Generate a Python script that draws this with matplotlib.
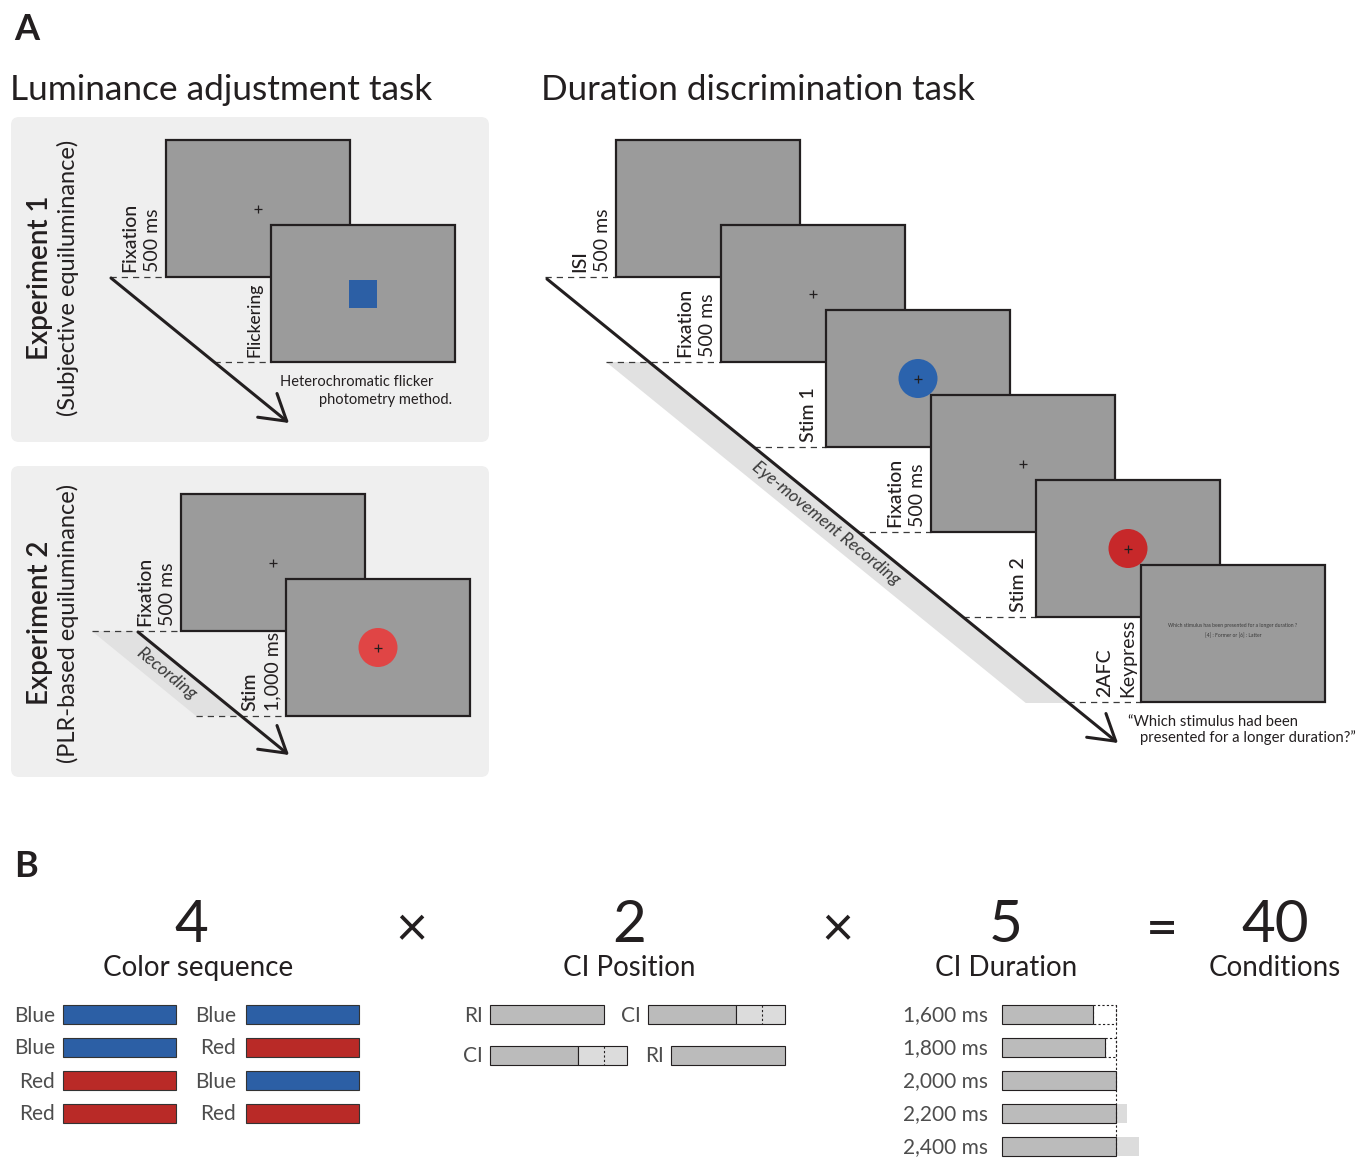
import matplotlib
matplotlib.use("Agg")
import matplotlib.pyplot as plt
from matplotlib.patches import Rectangle, Circle, FancyBboxPatch, Polygon

plt.rcParams['font.family'] = ['Lato', 'DejaVu Sans']

# ---------------- data ----------------
exp1_steps = [("Fixation", "500 ms"), ("Flickering", None)]
exp1_stims = ["plus", "square"]
exp2_steps = [("Fixation", "500 ms"), ("Stim", "1,000 ms")]
exp2_stims = ["plus", "light_red"]
task_steps = [("ISI", "500 ms"), ("Fixation", "500 ms"), ("Stim 1", None),
              ("Fixation", "500 ms"), ("Stim 2", None), ("2AFC", "Keypress")]
task_stims = [None, "plus", "blue", "plus", "red", "question"]
question_lines = ["Which stimulus has been presented for a longer duration ?",
                  "[4] : Former or [6] : Latter"]

factor_counts = ["4", "2", "5", "40"]
factor_names = ["Color sequence", "CI Position", "CI Duration", "Conditions"]
operators = ["×", "×", "="]

color_first = ["Blue", "Blue", "Red", "Red"]
color_second = ["Blue", "Red", "Blue", "Red"]
ci_position = [("RI", "CI"), ("CI", "RI")]
ri_ms = 2000
ci_ms = 2400
ci_split_ms = 1550
ci_duration = [1600, 1800, 2000, 2200, 2400]

# ---------------- style ----------------
INK = '#231f20'
SCREEN = '#9b9b9b'
PANEL = '#efefef'
BAND = '#e1e1e1'
LABEL = '#4d4d4d'
BAR = '#bbbbbb'
BAR_LIGHT = '#dcdcdc'
COLORS = {"Blue": '#2c5fa5', "Red": '#b92a27'}
W, H = 184, 137
DX, DY = 105, 85
PX_PER_MS = 0.057

fig = plt.figure(figsize=(13.66, 11.58), dpi=100)
ax = fig.add_axes([0, 0, 1, 1])
ax.set_xlim(0, 1366)
ax.set_ylim(1158, 0)
ax.axis('off')


def vlabel(x, y, s, size=14, weight='medium'):
    if s == "Flickering":
        size = 12.5
    ax.text(x, y, s, rotation=90, rotation_mode='anchor', ha='left', va='baseline',
            fontsize=size, color=INK, fontweight=weight, zorder=30)


def dash(x0, x1, y):
    ax.plot([x0, x1], [y, y], ls=(0, (5, 4)), lw=0.9, color='#3a3a3a', zorder=2)


def screen(x, y, stim, z):
    ax.add_patch(Rectangle((x, y), W, H, fc=SCREEN, ec=INK, lw=1.6, zorder=z))
    cx, cy = x + W / 2, y + H / 2
    if stim == "square":
        ax.add_patch(Rectangle((cx - 14, cy - 14), 28, 28, fc='#2c5fa5', ec='none', zorder=z + 0.1))
    if stim in ("blue", "red", "light_red"):
        col = {"blue": '#2b63ad', "red": '#c7282a', "light_red": '#e04545'}[stim]
        ax.add_patch(Circle((cx, cy), 19.5, fc=col, ec='none', zorder=z + 5))
    if stim in ("plus", "blue", "red", "light_red"):
        ax.plot(cx, cy, marker='+', ms=6, mew=0.9, color=INK, zorder=z + 5.5)
    if stim == "question":
        ax.text(cx, cy - 6.5, question_lines[0], ha='center', va='baseline', fontsize=3.6,
                color='#3a3a3a', zorder=z + 1)
        ax.text(cx, cy + 3.5, question_lines[1], ha='center', va='baseline', fontsize=3.6,
                color='#3a3a3a', zorder=z + 1)


def arrow(start, tip):
    ax.annotate('', xy=tip, xytext=start,
                arrowprops=dict(arrowstyle='->,head_length=1.8,head_width=1.1', lw=2.2,
                                color=INK, shrinkA=0, shrinkB=0, mutation_scale=10),
                zorder=20)


def sequence(x0, y0, steps, stims, start, tip, band=None, band_text=None, text_shift=0):
    slope = (tip[1] - start[1]) / (tip[0] - start[0])

    def xa(y):
        return start[0] + (y - start[1]) / slope

    if band is not None:
        yt, yb, bw = band
        ax.add_patch(Polygon([(xa(yt) - bw, yt), (xa(yt), yt), (xa(yb), yb), (xa(yb) - bw, yb)],
                             closed=True, fc=BAND, ec='none', zorder=1))
        yc = (yt + yb) / 2 + text_shift
        ax.text(xa(yc) - bw / 2, yc, band_text, rotation=-39.1, rotation_mode='anchor',
                ha='center', va='center', fontsize=12.5, style='italic', color='#3a3a3a', zorder=3)
    arrow(start, tip)
    for i, ((first, second), stim) in enumerate(zip(steps, stims)):
        x, y = x0 + i * DX, y0 + i * DY
        screen(x, y, stim, 10 + i)
        yb = y + H
        xs = xa(yb)
        if band is not None and (yb == band[0] or yb == band[1]):
            xs -= band[2]
        dash(xs, x, yb)
        if second:
            vlabel(x - 31, yb - 5, first)
            vlabel(x - 8, yb - 5, second, weight='normal')
        else:
            vlabel(x - 12, yb - 5, first)


# ---------------- panel A ----------------
ax.text(14, 40, "A", fontsize=26, fontweight='bold', color=INK)
ax.text(10, 100, "Luminance adjustment task", fontsize=25.4, color=INK)
ax.text(541, 100, "Duration discrimination task", fontsize=25.2, color=INK)

for (top, bottom) in [(117, 442), (466, 777)]:
    ax.add_patch(FancyBboxPatch((11, top), 478, bottom - top,
                                boxstyle="round,pad=0,rounding_size=8",
                                fc=PANEL, ec='none', zorder=0))

for yc, name, sub in [(278, "Experiment 1", "(Subjective equiluminance)"),
                      (623, "Experiment 2", "(PLR-based equiluminance)")]:
    ax.text(48, yc, name, rotation=90, rotation_mode='anchor', ha='center', va='baseline',
            fontsize=20, fontweight='semibold', color=INK)
    ax.text(75, yc, sub, rotation=90, rotation_mode='anchor', ha='center', va='baseline',
            fontsize=17, color=INK)

sequence(166, 140, exp1_steps, exp1_stims, (111, 278), (289, 423))
ax.text(280, 386, "Heterochromatic flicker", fontsize=10.5, color=INK)
ax.text(452, 404, "photometry method.", fontsize=10.5, color=INK, ha='right')

sequence(181, 494, exp2_steps, exp2_stims, (138, 632), (289, 755),
         band=(631, 716, 45), band_text="Recording", text_shift=0)

sequence(616, 140, task_steps, task_stims, (547, 279), (1118, 743),
         band=(362, 703, 43), band_text="Eye-movement Recording", text_shift=-9)
ax.text(1128, 726, "\u201cWhich stimulus had been", fontsize=10.7, color=INK)
ax.text(1140, 742, "presented for a longer duration?\u201d", fontsize=10.7, color=INK)

# ---------------- panel B ----------------
ax.text(14, 877, "B", fontsize=26, fontweight='bold', color=INK)
for xc, n, name in zip([191, 629, 1006, 1275], factor_counts, factor_names):
    ax.text(xc, 942, n, ha='center', va='baseline', fontsize=42, color=INK)
    ax.text(xc + (7 if n == "4" else 0), 976, name, ha='center', va='baseline', fontsize=20, color=INK)
for xc, op in zip([412, 838, 1162], operators):
    ax.text(xc, 931, op, ha='center', va='center', fontsize=40, color=INK)

row_h = 19
# color sequence
for i, (c1, c2) in enumerate(zip(color_first, color_second)):
    y = 1005 + 33 * i
    for lx, bx, c in [(55, 63, c1), (236, 246, c2)]:
        ax.text(lx, y + 16.5, c, ha='right', va='baseline', fontsize=15, color=LABEL)
        ax.add_patch(Rectangle((bx, y), 113, row_h, fc=COLORS[c], ec='#333333', lw=0.8))

# CI position
for i, row in enumerate(ci_position):
    y = 1005 + 41 * i
    x = 490
    for kind in row:
        ax.text(x - 7, y + 16.5, kind, ha='right', va='baseline', fontsize=15, color=LABEL)
        if kind == "RI":
            ax.add_patch(Rectangle((x, y), ri_ms * PX_PER_MS, row_h, fc=BAR, ec=INK, lw=0.8))
            x += ri_ms * PX_PER_MS + 44
        else:
            ax.add_patch(Rectangle((x, y), ci_split_ms * PX_PER_MS, row_h, fc=BAR, ec=INK, lw=0.8))
            ax.add_patch(Rectangle((x + ci_split_ms * PX_PER_MS, y), (ci_ms - ci_split_ms) * PX_PER_MS,
                                   row_h, fc=BAR_LIGHT, ec=INK, lw=0.8))
            xr = x + ri_ms * PX_PER_MS
            ax.plot([xr, xr], [y, y + row_h], ls=(0, (2, 2)), lw=0.8, color=INK)
            x += ci_ms * PX_PER_MS + 44

# CI duration
x0 = 1002
xref = x0 + ri_ms * PX_PER_MS
for i, d in enumerate(ci_duration):
    y = 1005 + 33 * i
    ax.text(988, y + 16.5, f"{d:,} ms", ha='right', va='baseline', fontsize=15, color=LABEL)
    if d < ri_ms:
        ax.add_patch(Rectangle((x0, y), d * PX_PER_MS, row_h, fc=BAR, ec=INK, lw=0.8, zorder=3))
        ax.add_patch(Rectangle((x0 + d * PX_PER_MS, y), (ri_ms - d) * PX_PER_MS, row_h, fill=False,
                               ec=INK, lw=0.8, ls=(0, (2, 2)), zorder=2))
    else:
        ax.add_patch(Rectangle((x0, y), (d - ri_ms) * PX_PER_MS + ri_ms * PX_PER_MS, row_h,
                               fc=BAR_LIGHT, ec='none', zorder=1))
        ax.add_patch(Rectangle((x0, y), ri_ms * PX_PER_MS, row_h, fc=BAR, ec=INK, lw=0.8, zorder=3))
ax.plot([xref, xref], [1005, 1005 + 33 * 4 + row_h], ls=(0, (2, 2)), lw=0.8, color=INK, zorder=4)

fig.savefig("out.png", dpi=100)
